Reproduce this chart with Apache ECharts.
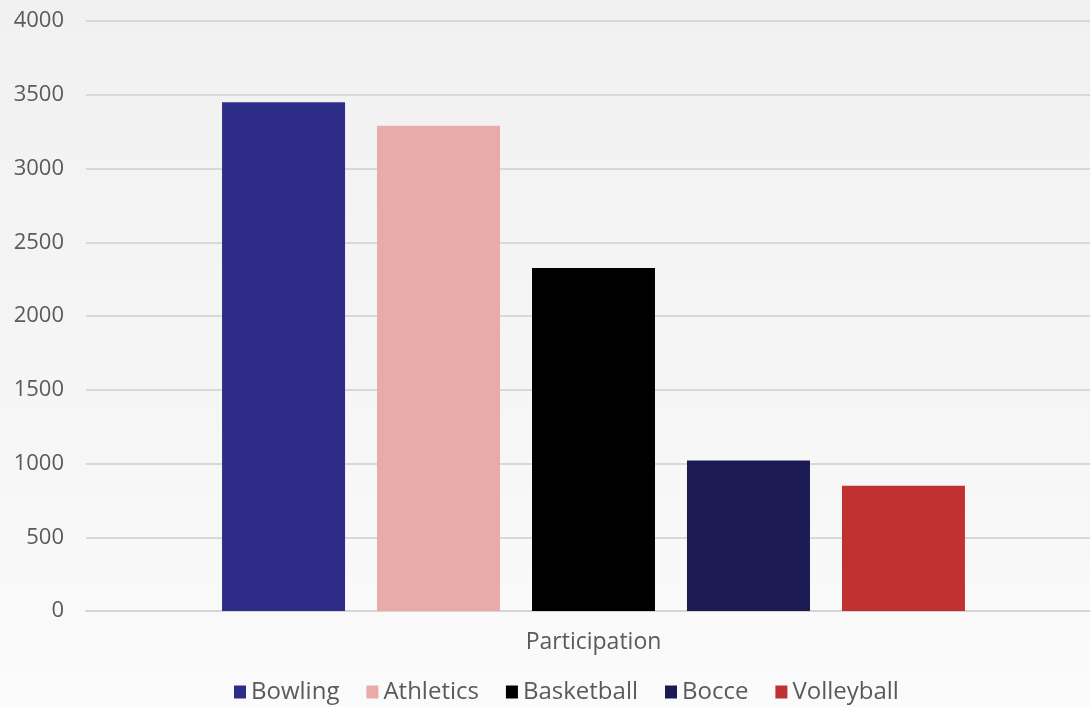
<!DOCTYPE html>
<html>
<head>
<meta charset="utf-8">
<script src="https://cdn.jsdelivr.net/npm/echarts@6/dist/echarts.min.js"></script>
<style>
  html, body { margin: 0; padding: 0; }
  #chart { width: 1090px; height: 707px; }
</style>
</head>
<body>
<div id="chart"></div>
<script>
const categories = ['Participation']
const sports = ['Bowling', 'Athletics', 'Basketball', 'Bocce', 'Volleyball']
const participants = [3450, 3290, 2325, 1020, 850]
const colors = ['#2d2d87', '#e9aaaa', '#000000', '#1c1a52', '#c03232']
const yTicks = { min: 0, max: 4000, interval: 500 }

const textColor = '#5a5a5a'
const font = '"Open Sans", "Noto Sans", sans-serif'

const chart = echarts.init(document.getElementById('chart'), null, { renderer: 'canvas' })

chart.setOption({
  animation: false,
  backgroundColor: {
    type: 'linear', x: 0, y: 0, x2: 0, y2: 1,
    colorStops: [
      { offset: 0, color: '#f1f1f1' },
      { offset: 0.6, color: '#f6f6f6' },
      { offset: 1, color: '#fbfbfb' }
    ]
  },
  color: colors,
  grid: { left: 86, width: 1015, top: 21, bottom: 96, outerBoundsMode: 'none' },
  legend: {
    bottom: -2,
    left: 229,
    icon: 'rect',
    itemWidth: 12,
    itemHeight: 13,
    itemGap: 27,
    textStyle: { color: textColor, fontSize: 24, fontFamily: font },
    data: sports
  },
  xAxis: {
    type: 'category',
    data: categories,
    axisLine: { lineStyle: { color: '#d4d4d4', width: 2 } },
    axisTick: { show: false },
    axisLabel: { color: textColor, fontSize: 23, fontFamily: font, margin: 20 }
  },
  yAxis: {
    type: 'value',
    min: yTicks.min,
    max: yTicks.max,
    interval: yTicks.interval,
    axisLine: { show: false },
    axisTick: { show: false },
    axisLabel: { color: textColor, fontSize: 22, fontFamily: font, margin: 22, formatter: v => String(v) },
    splitLine: { lineStyle: { color: '#d8d8d8', width: 2 } }
  },
  series: sports.map((name, i) => ({
    name,
    type: 'bar',
    barWidth: 123,
    barGap: '26%',
    data: [participants[i]]
  }))
})
</script>
</body>
</html>
